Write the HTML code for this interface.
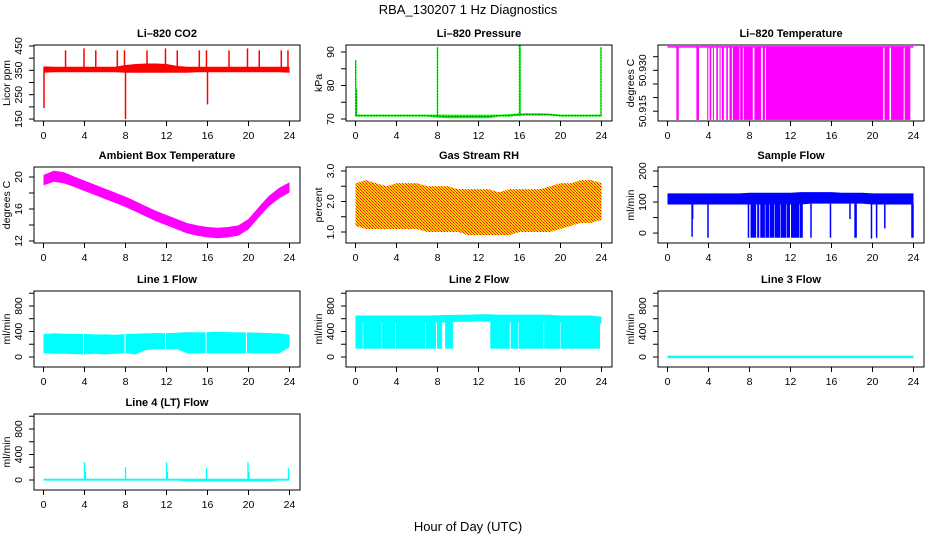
<!DOCTYPE html>
<html><head><meta charset="utf-8"><style>
html,body{margin:0;padding:0;background:#fff;}
svg{display:block;font-family:"Liberation Sans",sans-serif;}
</style></head><body>
<svg id="chart" width="936" height="540" viewBox="0 0 936 540" xmlns="http://www.w3.org/2000/svg">
<defs>
<pattern id="rhpat" width="3" height="3" patternUnits="userSpaceOnUse">
<rect width="3" height="3" fill="#ffd000"/>
<rect x="0" y="0" width="1" height="1" fill="#ff0000"/>
<rect x="1" y="1" width="1" height="1" fill="#ff2000"/>
<rect x="2" y="2" width="1" height="1" fill="#ff4000"/>
</pattern>
</defs>
<text x="468" y="14" text-anchor="middle" font-size="13">RBA_130207  1 Hz Diagnostics</text>
<text x="468" y="531" text-anchor="middle" font-size="13">Hour of Day (UTC)</text>
</svg>
<script>
// ---- data ----
const hours = [0,1,2,3,4,5,6,7,8,9,10,11,12,13,14,15,16,17,18,19,20,21,22,23,24];
const xTicks = [0,4,8,12,16,20,24];

const co2Lo = [340,342,342,342,342,342,342,342,340,340,340,340,340,340,340,342,342,342,342,342,342,342,342,342,340];
const co2Hi = [366,365,365,365,365,365,365,365,372,376,378,378,376,368,365,365,365,365,365,365,365,365,365,365,365];
const co2SpikeHours = [0.05,2.15,3.95,5.1,7.2,7.9,8.0,10.1,11.9,13.05,15.2,15.9,16.0,18.1,19.9,21.05,23.2,23.85];
const co2SpikeVals = [195,432,440,432,432,432,150,432,440,432,432,432,210,432,440,432,432,432];

const pressLo = [70.7,70.7,70.7,70.7,70.7,70.7,70.7,70.7,70.4,70.2,70.2,70.2,70.2,70.2,70.7,70.7,71.0,71.0,71.0,71.0,70.7,70.7,70.7,70.7,70.7];
const pressHi = [71.3,71.3,71.3,71.3,71.3,71.3,71.3,71.3,71.3,71.3,71.3,71.3,71.3,71.3,71.3,71.4,71.7,71.7,71.7,71.6,71.3,71.3,71.3,71.3,71.3];
const pressSpikeHours = [0.02,0.1,8.0,16.0,16.05,23.95];
const pressSpikeVals = [87.5,79,91.5,92,92,91.5];

const tempStart = [0.87,2.82,3.88,4.11,4.43,4.76,5.08,5.31,5.73,6.05,6.38,7.09,7.44,8.48,9.29,9.61,21.17,21.81,23.14];
const tempEnd   = [1.10,3.07,3.98,4.27,4.53,4.92,5.18,5.50,5.89,6.28,7.02,7.35,8.32,9.13,9.51,21.04,21.65,23.04,23.69];
const tempHigh = 50.9386;
const tempLow = 50.9118;

const ambCenter = [19.6,20.1,19.9,19.4,18.9,18.4,17.9,17.4,16.9,16.3,15.7,15.1,14.6,14.1,13.6,13.3,13.1,13.0,13.1,13.3,14.1,15.6,17.0,18.0,18.7];
const ambHalf = [0.65,0.7,0.7,0.65,0.65,0.65,0.65,0.65,0.65,0.65,0.65,0.65,0.65,0.65,0.65,0.65,0.65,0.65,0.65,0.65,0.65,0.65,0.65,0.65,0.65];

const rhHi = [2.6,2.7,2.6,2.5,2.6,2.6,2.6,2.5,2.5,2.5,2.4,2.4,2.4,2.4,2.3,2.4,2.4,2.4,2.4,2.5,2.6,2.6,2.7,2.7,2.6];
const rhLo = [1.2,1.1,1.1,1.1,1.1,1.1,1.1,1.0,1.0,1.0,1.0,0.9,0.9,0.9,0.9,0.9,1.0,1.0,1.0,1.0,1.1,1.2,1.3,1.3,1.4];

const sfLo = [92,92,92,92,92,92,92,92,92,92,92,92,92,92,95,95,95,95,95,95,92,92,92,92,92];
const sfHi = [128,128,128,128,128,128,128,128,130,130,130,130,130,132,132,132,132,130,130,130,128,128,128,128,128];
const sfDipHours = [2.4,2.45,3.95,7.9,14.0,15.9,17.8,18.3,18.4,19.9,20.4,21.2,23.85,23.95];
const sfDipVals = [-12,45,-15,-15,-15,-15,45,-15,-15,-18,-15,15,-15,-15];
const sfDenseStart = [8.1,8.75,9.05,9.55,10.0,10.45,11.05,11.65,12.05,12.9];
const sfDenseEnd   = [8.65,8.95,9.5,9.95,10.4,11.0,11.6,11.95,12.85,13.2];
const sfDenseLow = -15;

const l1SegStart = [0,3.95,8.0,11.95,15.9,19.85];
const l1SegEnd = [3.85,7.9,11.85,15.8,19.75,24];
const l1Hi = [360,370,365,360,360,355,355,350,360,365,370,375,375,380,390,385,390,395,390,385,385,380,375,370,350];
const l1Lo = [60,50,50,45,40,50,40,50,60,40,110,120,120,120,60,60,60,60,60,60,60,60,60,60,150];

const l2TopLo = [540,540,540,540,540,540,540,540,540,545,550,550,560,550,540,540,540,540,540,540,540,540,540,540,520];
const l2TopHi = [650,650,650,650,650,650,650,650,655,660,660,665,670,670,665,665,665,665,665,660,650,650,650,650,630];
const l2FullStart = [0,0.75,2.6,3.95,6.85,7.95,8.75,13.15,15.15,15.95,18.4,20.0];
const l2FullEnd = [0.7,2.55,3.9,6.8,7.85,8.45,9.5,15.05,15.9,18.35,19.95,23.85];
const l2FullLow = 130;

const l3Vals = [2,2,2,2,2,2,2,2,2,2,2,2,2,2,2,2,2,2,2,2,2,2,2,2,2];

const l4Lo = [-10,-10,-10,-10,-10,-10,-10,-10,-10,-10,-10,-10,-10,-10,-20,-20,-20,-20,-20,-20,-20,-20,-20,-10,-10];
const l4Hi = [20,20,20,20,20,20,20,20,20,20,20,20,20,20,20,20,20,20,20,20,20,20,20,20,20];
const l4SpikeHours = [4.0,4.1,8.0,12.0,12.1,15.9,19.95,20.05,23.9];
const l4SpikeVals = [280,130,200,280,130,190,280,130,190];

// ---- layout ----
const NS = "http://www.w3.org/2000/svg";
const svg = document.getElementById('chart');
const colX = [34,346,658];
const rowY = [45,167,291,414];
const BW = 266, BH = 76;

function mk(tag, attrs, name, parent){
  const el = document.createElementNS(NS, tag);
  for (const k in attrs) el.setAttribute(k, attrs[k]);
  
  
  (parent||svg).appendChild(el);
  return el;
}

function panel(col,row,title,ylab,lo,hi,ticks,labels,labelText,key){
  const L = colX[col], T = rowY[row];
  const g = mk('g',{},key+'-panel');
  const p = {L,T,lo,hi,g,key};
  p.x = h => L + 9.5 + h*246/24;
  p.y = v => T + (hi - v)/(hi - lo)*BH;
  mk('text',{x:L+BW/2,y:T-8,'text-anchor':'middle','font-size':'11','font-weight':'bold'},key+'-title',g).textContent = title;
  ticks.forEach(t=>{
    const yy = p.y(t);
    mk('line',{x1:L-5,x2:L,y1:yy,y2:yy,stroke:'#000','stroke-width':1},key+'-y-tick',g);
  });
  labels.forEach((t,i)=>{
    const yy = p.y(t);
    const tx = mk('text',{x:L-12,y:yy,'text-anchor':'middle','font-size':'10.5',transform:`rotate(-90 ${L-12} ${yy})`},key+'-y-tick-label',g);
    tx.textContent = labelText[i];
  });
  const yl = mk('text',{x:L-24,y:T+BH/2,'text-anchor':'middle','font-size':'10.5',transform:`rotate(-90 ${L-24} ${T+BH/2})`},key+'-y-axis-title',g);
  yl.textContent = ylab;
  xTicks.forEach(t=>{
    const xx = p.x(t);
    mk('line',{x1:xx,x2:xx,y1:T+BH,y2:T+BH+5,stroke:'#000','stroke-width':1},key+'-x-tick',g);
    mk('text',{x:xx,y:T+BH+18,'text-anchor':'middle','font-size':'10.5'},key+'-x-tick-label',g).textContent = String(t);
  });
  p.plot = mk('g',{},key+'-plot-area',g);
  return p;
}
function box(p){
  mk('rect',{x:p.L,y:p.T,width:BW,height:BH,fill:'none',stroke:'#000','stroke-width':1},p.key+'-frame',p.g);
}
function band(p,loArr,hiArr,fill,name,h0,h1){
  h0 = h0===undefined?0:h0; h1 = h1===undefined?24:h1;
  const pts=[];
  const interp=(arr,h)=>{const i=Math.min(23,Math.floor(h));const f=h-i;return arr[i]*(1-f)+arr[i+1]*f;};
  const hs=[h0];
  hours.forEach(h=>{if(h>h0&&h<h1)hs.push(h);});
  hs.push(h1);
  hs.forEach(h=>pts.push(p.x(h).toFixed(1)+','+p.y(interp(hiArr,h)).toFixed(1)));
  hs.slice().reverse().forEach(h=>pts.push(p.x(h).toFixed(1)+','+p.y(interp(loArr,h)).toFixed(1)));
  return mk('polygon',{points:pts.join(' '),fill:fill},name,p.plot);
}
function vline(p,h,v0,v1,color,w,name){
  return mk('line',{x1:p.x(h),x2:p.x(h),y1:p.y(v0),y2:p.y(v1),stroke:color,'stroke-width':w},name,p.plot);
}
function rectH(p,h0,h1,v0,v1,fill,name){
  const x0=p.x(h0),x1=p.x(h1);
  return mk('rect',{x:x0,y:p.y(v1),width:Math.max(1,x1-x0),height:p.y(v0)-p.y(v1),fill:fill},name,p.plot);
}

// CO2
let p = panel(0,0,'Li\u2013820 CO2','Licor ppm',142,454,[150,200,250,300,350,400,450],[150,250,350,450],['150','250','350','450'],'co2');
band(p,co2Lo,co2Hi,'#ff0000','co2-band');
co2SpikeHours.forEach((h,i)=>{
  const base = co2SpikeVals[i] > 355 ? 350 : 360;
  vline(p,h,base,co2SpikeVals[i],'#ff0000',1.5,'co2-spike');
});
box(p);

// Pressure
p = panel(1,0,'Li\u2013820 Pressure','kPa',69.4,92.1,[70,75,80,85,90],[70,80,90],['70','80','90'],'pressure');
band(p,pressLo,pressHi,'#00ff00','pressure-band');
mk('polyline',{points:hours.map((h,i)=>p.x(h)+','+p.y((pressLo[i]+pressHi[i])/2)).join(' '),fill:'none',stroke:'#000','stroke-width':1,'stroke-dasharray':'1 2'},'pressure-line',p.plot);
pressSpikeHours.forEach((h,i)=>{
  vline(p,h,71,pressSpikeVals[i],'#00ff00',1.5,'pressure-spike');
  vline(p,h,71,pressSpikeVals[i],'#000',0.7,'pressure-spike-dots').setAttribute('stroke-dasharray','1 2');
});
box(p);

// Li-820 Temperature
p = panel(2,0,'Li\u2013820 Temperature','degrees C',50.9114,50.9393,[50.915,50.92,50.925,50.93,50.935],[50.915,50.930],['50.915','50.930'],'li820-temp');
mk('line',{x1:p.x(0),x2:p.x(24),y1:p.y(tempHigh),y2:p.y(tempHigh),stroke:'#ff00ff','stroke-width':1.5},'temp-top-line',p.plot);
tempStart.forEach((s,i)=>rectH(p,s,tempEnd[i],tempLow,tempHigh,'#ff00ff','temp-bar'));
box(p);

// Ambient
p = panel(0,1,'Ambient Box Temperature','degrees C',11.75,21.25,[12,14,16,18,20],[12,16,20],['12','16','20'],'ambient');
band(p,ambCenter.map((c,i)=>c-ambHalf[i]),ambCenter.map((c,i)=>c+ambHalf[i]),'#ff00ff','ambient-band');
box(p);

// RH
p = panel(1,1,'Gas Stream RH','percent',0.64,3.13,[1.0,1.5,2.0,2.5,3.0],[1,2,3],['1.0','2.0','3.0'],'rh');
band(p,rhLo,rhHi,'url(#rhpat)','rh-band');
box(p);

// Sample flow
p = panel(2,1,'Sample Flow','ml/min',-32,213,[0,50,100,150,200],[0,100,200],['0','100','200'],'sample-flow');
band(p,sfLo,sfHi,'#0000ff','sample-band');
sfDenseStart.forEach((s,i)=>rectH(p,s,sfDenseEnd[i],sfDenseLow,128,'#0000ff','sample-dense-block'));
sfDipHours.forEach((h,i)=>vline(p,h,95,sfDipVals[i],'#0000ff',1.5,'sample-dip'));
box(p);

// Line 1
p = panel(0,2,'Line 1 Flow','ml/min',-157,1035,[0,200,400,600,800,1000],[0,400,800],['0','400','800'],'line1');
l1SegStart.forEach((s,i)=>band(p,l1Lo,l1Hi,'#00ffff','line1-band',s,l1SegEnd[i]));
box(p);

// Line 2
p = panel(1,2,'Line 2 Flow','ml/min',-157,1035,[0,200,400,600,800,1000],[0,400,800],['0','400','800'],'line2');
band(p,l2TopLo,l2TopHi,'#00ffff','line2-top-band');
l2FullStart.forEach((s,i)=>rectH(p,s,l2FullEnd[i],l2FullLow,600,'#00ffff','line2-full-block'));
box(p);

// Line 3
p = panel(2,2,'Line 3 Flow','ml/min',-157,1035,[0,200,400,600,800,1000],[0,400,800],['0','400','800'],'line3');
mk('polyline',{points:hours.map((h,i)=>p.x(h)+','+p.y(l3Vals[i])).join(' '),fill:'none',stroke:'#00ffff','stroke-width':2.5},'line3-series',p.plot);
box(p);

// Line 4
p = panel(0,3,'Line 4 (LT) Flow','ml/min',-157,1035,[0,200,400,600,800,1000],[0,400,800],['0','400','800'],'line4');
band(p,l4Lo,l4Hi,'#00ffff','line4-band');
l4SpikeHours.forEach((h,i)=>vline(p,h,0,l4SpikeVals[i],'#00ffff',1.3,'line4-spike'));
box(p);
</script>
</body></html>
